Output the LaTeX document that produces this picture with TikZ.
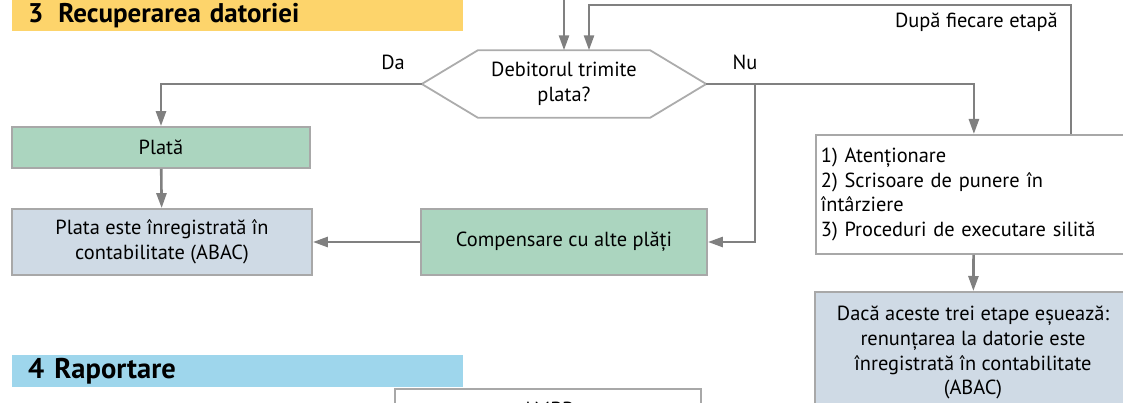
\documentclass[tikz,border=0pt]{standalone}
\usepackage{fontspec}
\setmainfont{PT Sans}
\usetikzlibrary{arrows.meta,calc}

\definecolor{linegray}{RGB}{128,128,128}
\definecolor{boxgray}{RGB}{168,168,168}
\definecolor{hexgray}{RGB}{172,172,172}
\definecolor{greenfill}{RGB}{171,213,191}
\definecolor{bluefill}{RGB}{207,218,229}
\definecolor{headyellow}{RGB}{253,212,107}
\definecolor{headblue}{RGB}{158,214,236}

\newcommand\bodyfont{\fontsize{20.4}{24.8}\selectfont}
\newcommand\headfont{\fontsize{27}{28}\selectfont\bfseries}

\tikzset{
  arr/.style={draw=linegray, line width=2.6pt,
    -{Triangle[length=15pt,width=10pt]}},
  flowbox/.style={draw=boxgray, line width=1.8pt, font=\bodyfont,
    align=center, inner sep=0pt},
  greenbox/.style={flowbox, fill=greenfill},
  bluebox/.style={flowbox, fill=bluefill},
  whitebox/.style={flowbox, fill=white},
  headbar/.style={anchor=north west, minimum width=451pt, inner xsep=16pt,
    inner ysep=0pt, text width=419pt, align=left, font=\headfont},
  lbl/.style={font=\bodyfont, inner sep=0pt}
}

\begin{document}
\begin{tikzpicture}[x=1pt,y=-1pt]
\useasboundingbox (0,0) rectangle (1123,403);
\clip (0,0) rectangle (1123,403);

% section headers
\node[headbar, fill=headyellow, minimum height=31pt] (h3) at (12,0)
  {3\hspace{0.55em}Recuperarea datoriei};
\node[headbar, fill=headblue, minimum height=32pt] (h4) at (12,355)
  {\fontsize{28.5}{29}\selectfont 4\hspace{0.35em}Raportare};

% decision
\node[font=\bodyfont, align=center, minimum width=284pt, minimum height=67pt,
  inner sep=0pt] (q) at (564,84) {Debitorul trimite\\plata?};
\draw[hexgray, line width=1.8pt]
  (q.west) -- ($(q.north west)+(56,0)$) -- ($(q.north east)+(-56,0)$)
  -- (q.east) -- ($(q.south east)+(-56,0)$) -- ($(q.south west)+(56,0)$)
  -- cycle;

% process boxes
\node[greenbox, minimum width=298pt, minimum height=41pt] (plata) at (161,147.5) {Plată};
\node[bluebox, minimum width=300pt, minimum height=66pt] (inreg) at (162,242)
  {Plata este înregistrată în\\contabilitate (ABAC)};
\node[greenbox, minimum width=286pt, minimum height=66pt] (comp) at (564,242)
  {Compensare cu alte plăți};
\node[whitebox, anchor=north west, minimum width=316pt, minimum height=119pt,
  align=left, inner xsep=5pt, text width=306pt] (steps) at (815,134)
  {1) Atenționare\\2) Scrisoare de punere în\\întârziere\\3) Proceduri de executare silită};
\node[bluebox, anchor=north, minimum width=316pt, inner ysep=14pt] (fail) at (973,291)
  {Dacă aceste trei etape eșuează:\\renunțarea la datorie este\\înregistrată în contabilitate\\(ABAC)};
\node[whitebox, anchor=north west, minimum width=306pt, minimum height=40pt] (ambp) at (394,388)
  {AMBP};

% connector anchors
\coordinate (in1) at (564,0);
\coordinate (in2) at (589,5);
\coordinate (loopx) at (1071,5);
\coordinate (branch) at (755,84);

% connectors
\draw[arr] (in1) -- (q.north);
\draw[arr] (loopx |- steps.north) -- (loopx) -- (in2) -- (in2 |- q.north);
\draw[arr] (q.west) -| (plata.north);
\draw[arr] (plata) -- (inreg);
\draw[arr] (q.east) -| (steps.north);
\draw[arr] (branch) |- (comp.east);
\draw[arr] (comp) -- (inreg);
\draw[arr] (steps) -- (fail);

% labels
\node[lbl] (lda) at (393,62) {Da};
\node[lbl] (lnu) at (745,62) {Nu};
\node[lbl, anchor=east] (ldupa) at (1058,22) {După fiecare etapă};
\end{tikzpicture}
\end{document}
